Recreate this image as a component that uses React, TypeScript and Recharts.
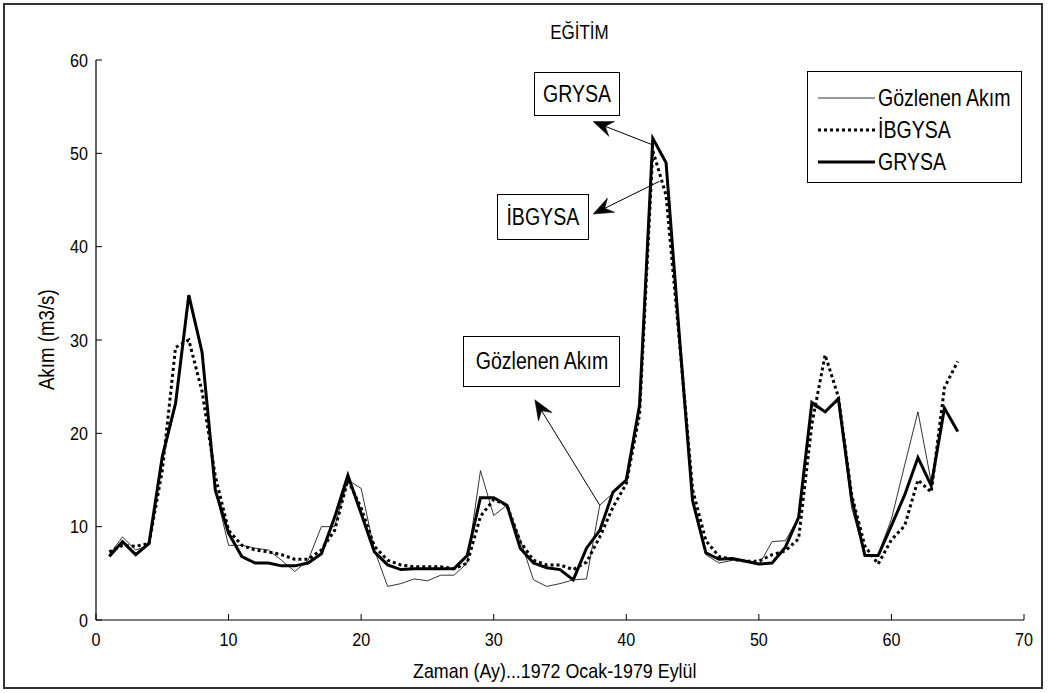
import React from "react";
import { LineChart, Line, XAxis, YAxis, ReferenceLine } from "recharts";

const months = Array.from({ length: 65 }, (_, i) => i + 1);

const gozlenen = [
  7.0, 8.9, 7.5, 8.0, 17.0, 23.0, 34.5, 28.5, 13.9, 8.0,
  8.0, 7.7, 7.5, 6.4, 5.2, 6.4, 10.0, 10.0, 15.0, 14.1,
  7.5, 3.6, 3.9, 4.4, 4.2, 4.8, 4.8, 6.1, 16.0, 11.2,
  12.3, 8.6, 4.3, 3.6, 3.9, 4.3, 4.4, 12.3, 13.6, 15.0,
  23.0, 51.5, 49.0, 30.5, 12.8, 7.0, 6.1, 6.4, 6.3, 5.9,
  8.4, 8.5, 11.0, 23.0, 22.3, 23.5, 12.0, 7.0, 7.0, 10.8,
  16.6, 22.3, 14.8, 22.7, 20.2,
];

const ibgysa = [
  7.3, 8.0, 7.9, 8.2, 16.0, 29.2, 30.0, 24.5, 15.4, 9.6,
  8.0, 7.5, 7.3, 7.0, 6.5, 6.5, 7.5, 9.6, 15.0, 12.0,
  7.9, 6.4, 5.9, 5.7, 5.7, 5.7, 5.5, 6.1, 11.1, 12.9,
  12.3, 8.4, 6.4, 5.9, 5.9, 5.4, 6.2, 8.9, 12.1, 14.6,
  22.0, 50.3, 45.5, 30.0, 14.0, 8.5, 6.8, 6.5, 6.3, 6.3,
  7.0, 7.4, 8.7, 21.0, 28.4, 23.9, 13.4, 7.9, 6.0, 8.6,
  10.1, 15.0, 13.7, 24.9, 27.7,
];

const grysa = [
  6.8, 8.4, 7.0, 8.2, 17.5, 23.2, 34.8, 28.7, 13.9, 9.3,
  6.8, 6.1, 6.1, 5.8, 5.8, 6.1, 7.1, 11.0, 15.5, 11.4,
  7.3, 5.9, 5.4, 5.5, 5.5, 5.5, 5.5, 6.9, 13.1, 13.1,
  12.3, 7.7, 6.1, 5.6, 5.4, 4.3, 7.7, 9.6, 13.7, 15.0,
  23.0, 51.6, 49.0, 30.5, 12.8, 7.2, 6.5, 6.6, 6.3, 6.0,
  6.1, 7.8, 11.0, 23.3, 22.3, 23.7, 13.0, 6.9, 6.9, 10.1,
  13.4, 17.4, 14.4, 22.7, 20.2,
];

const xTicks = [0, 10, 20, 30, 40, 50, 60, 70];
const yTicks = [0, 10, 20, 30, 40, 50, 60];

const seriesNames = ["Gözlenen Akım", "İBGYSA", "GRYSA"];

// annotation arrows: [tailX, tailY, headX, headY] in data units
const arrows = [
  { label: "GRYSA", seg: [42.0, 50.9, 37.5, 53.4] },
  { label: "İBGYSA", seg: [42.5, 47.0, 37.5, 43.5] },
  { label: "Gözlenen Akım", seg: [38.0, 12.3, 33.1, 23.6] },
];

const data = months.map((m, i) => ({
  x: m,
  g: gozlenen[i],
  i: ibgysa[i],
  r: grysa[i],
}));

const FONT = '"Liberation Sans", Arial, sans-serif';
const SX = 0.85;

const XTick = (props: any) => {
  const { x, y, payload } = props;
  return (
    <text
      transform={`translate(${x},${y}) scale(${SX},1)`}
      textAnchor="middle"
      dy="0.71em"
      fontFamily={FONT}
      fontSize={19}
      fill="#000"
    >
      {payload.value}
    </text>
  );
};

const YTick = (props: any) => {
  const { x, y, payload } = props;
  return (
    <text
      transform={`translate(${x},${y}) scale(${SX},1)`}
      textAnchor="end"
      dy="0.355em"
      fontFamily={FONT}
      fontSize={19}
      fill="#000"
    >
      {payload.value}
    </text>
  );
};

const ArrowShape = (props: any) => {
  const { x1, y1, x2, y2 } = props;
  if (![x1, y1, x2, y2].every((v) => typeof v === "number")) return null;
  const dx = x2 - x1;
  const dy = y2 - y1;
  const len = Math.sqrt(dx * dx + dy * dy) || 1;
  const ux = dx / len;
  const uy = dy / len;
  const nx = -uy;
  const ny = ux;
  const L = 20;
  const W = 8;
  const bx = x2 - L * ux;
  const by = y2 - L * uy;
  const pts = [
    [x2, y2],
    [bx + W * nx, by + W * ny],
    [x2 - 0.65 * L * ux, y2 - 0.65 * L * uy],
    [bx - W * nx, by - W * ny],
  ]
    .map((p) => p.join(","))
    .join(" ");
  return (
    <g>
      <line x1={x1} y1={y1} x2={x2 - 0.6 * L * ux} y2={y2 - 0.6 * L * uy} stroke="#000" strokeWidth={1} />
      <polygon points={pts} fill="#000" stroke="#000" strokeWidth={0.5} />
    </g>
  );
};

const Narrow = ({ children }: { children: React.ReactNode }) => (
  <span style={{ display: "inline-block", transform: `scaleX(${SX})`, transformOrigin: "center center" }}>
    {children}
  </span>
);

const boxStyle = (left: number, top: number, w: number, h: number): React.CSSProperties => ({
  position: "absolute",
  left,
  top,
  width: w,
  height: h,
  border: "1px solid #000",
  background: "#fff",
  boxSizing: "border-box",
  display: "flex",
  alignItems: "center",
  justifyContent: "center",
  fontFamily: FONT,
  fontSize: 23,
  color: "#000",
  whiteSpace: "nowrap",
});

export default function App() {
  return (
    <div
      style={{
        position: "absolute",
        left: 0,
        top: 0,
        width: 1048,
        height: 693,
        background: "#fff",
        overflow: "hidden",
      }}
    >
      <div
        style={{
          position: "absolute",
          left: 3,
          top: 3,
          width: 1040,
          height: 686,
          border: "2px solid #333",
          boxSizing: "border-box",
        }}
      />
      <div style={{ position: "absolute", left: 0, top: 0 }}>
        <LineChart
          width={1048}
          height={693}
          data={data}
          margin={{ top: 60, right: 24, bottom: 33, left: 36 }}
        >
          <XAxis
            dataKey="x"
            type="number"
            domain={[0, 70]}
            ticks={xTicks}
            interval={0}
            height={40}
            tickSize={-6}
            tickMargin={18}
            axisLine={{ stroke: "#000", strokeWidth: 1.2 }}
            tickLine={{ stroke: "#000" }}
            tick={<XTick />}
            allowDataOverflow
          />
          <XAxis
            xAxisId="top"
            dataKey="x"
            type="number"
            orientation="top"
            domain={[0, 70]}
            ticks={xTicks}
            height={0}
            tickSize={-6}
            axisLine={{ stroke: "#000", strokeWidth: 1.2 }}
            tickLine={{ stroke: "#000" }}
            tick={false}
          />
          <YAxis
            type="number"
            domain={[0, 60]}
            ticks={yTicks}
            interval={0}
            width={60}
            tickSize={-6}
            tickMargin={14}
            axisLine={{ stroke: "#000", strokeWidth: 1.2 }}
            tickLine={{ stroke: "#000" }}
            tick={<YTick />}
            allowDataOverflow
          />
          <YAxis
            yAxisId="right"
            type="number"
            orientation="right"
            domain={[0, 60]}
            ticks={yTicks}
            width={0}
            tickSize={-6}
            axisLine={{ stroke: "#000", strokeWidth: 1.2 }}
            tickLine={{ stroke: "#000" }}
            tick={false}
          />
          <Line
            type="linear"
            dataKey="g"
            name={seriesNames[0]}
            stroke="#000"
            strokeWidth={0.8}
            dot={false}
            isAnimationActive={false}
          />
          <Line
            type="linear"
            dataKey="i"
            name={seriesNames[1]}
            stroke="#000"
            strokeWidth={3}
            strokeDasharray="3 3"
            dot={false}
            isAnimationActive={false}
          />
          <Line
            type="linear"
            dataKey="r"
            name={seriesNames[2]}
            stroke="#000"
            strokeWidth={3}
            dot={false}
            isAnimationActive={false}
          />
          {arrows.map((a) => (
            <ReferenceLine
              key={a.label}
              segment={[
                { x: a.seg[0], y: a.seg[1] },
                { x: a.seg[2], y: a.seg[3] },
              ]}
              stroke="#000"
              shape={ArrowShape}
            />
          ))}
        </LineChart>
      </div>

      {/* Title */}
      <div
        style={{
          position: "absolute",
          left: 479,
          width: 200,
          top: 21,
          textAlign: "center",
          fontFamily: FONT,
          fontSize: 20,
          color: "#000",
        }}
      >
        <Narrow>EĞİTİM</Narrow>
      </div>

      {/* X axis label */}
      <div
        style={{
          position: "absolute",
          left: 355,
          width: 400,
          top: 659,
          textAlign: "center",
          fontFamily: FONT,
          fontSize: 21,
          color: "#000",
          whiteSpace: "nowrap",
        }}
      >
        <Narrow>Zaman (Ay)...1972 Ocak-1979 Eylül</Narrow>
      </div>

      {/* Y axis label */}
      <div
        style={{
          position: "absolute",
          left: 47 - 100,
          width: 200,
          top: 340 - 13,
          textAlign: "center",
          fontFamily: FONT,
          fontSize: 22,
          color: "#000",
          whiteSpace: "nowrap",
          transform: "rotate(-90deg)",
          transformOrigin: "center center",
        }}
      >
        <Narrow>Akım (m3/s)</Narrow>
      </div>

      {/* Annotation boxes */}
      <div style={boxStyle(534, 72, 86, 44)}>
        <Narrow>GRYSA</Narrow>
      </div>
      <div style={boxStyle(497, 194, 92, 46)}>
        <Narrow>İBGYSA</Narrow>
      </div>
      <div style={boxStyle(463, 336, 157, 51)}>
        <Narrow>Gözlenen Akım</Narrow>
      </div>

      {/* Legend */}
      <div
        style={{
          position: "absolute",
          left: 807,
          top: 71,
          width: 215,
          height: 112,
          border: "1px solid #000",
          background: "#fff",
          boxSizing: "border-box",
        }}
      >
        <svg width={215} height={112} style={{ position: "absolute", left: -1, top: -1 }}>
          <line x1={11} x2={68} y1={27} y2={27} stroke="#000" strokeWidth={0.8} />
          <line x1={11} x2={68} y1={59} y2={59} stroke="#000" strokeWidth={3} strokeDasharray="3 3" />
          <line x1={11} x2={68} y1={91} y2={91} stroke="#000" strokeWidth={3} />
          {seriesNames.map((n, k) => (
            <text
              key={n}
              transform={`translate(71,${27 + 32 * k}) scale(${SX},1)`}
              dy="0.36em"
              fontFamily={FONT}
              fontSize={23}
              fill="#000"
            >
              {n}
            </text>
          ))}
        </svg>
      </div>
    </div>
  );
}
